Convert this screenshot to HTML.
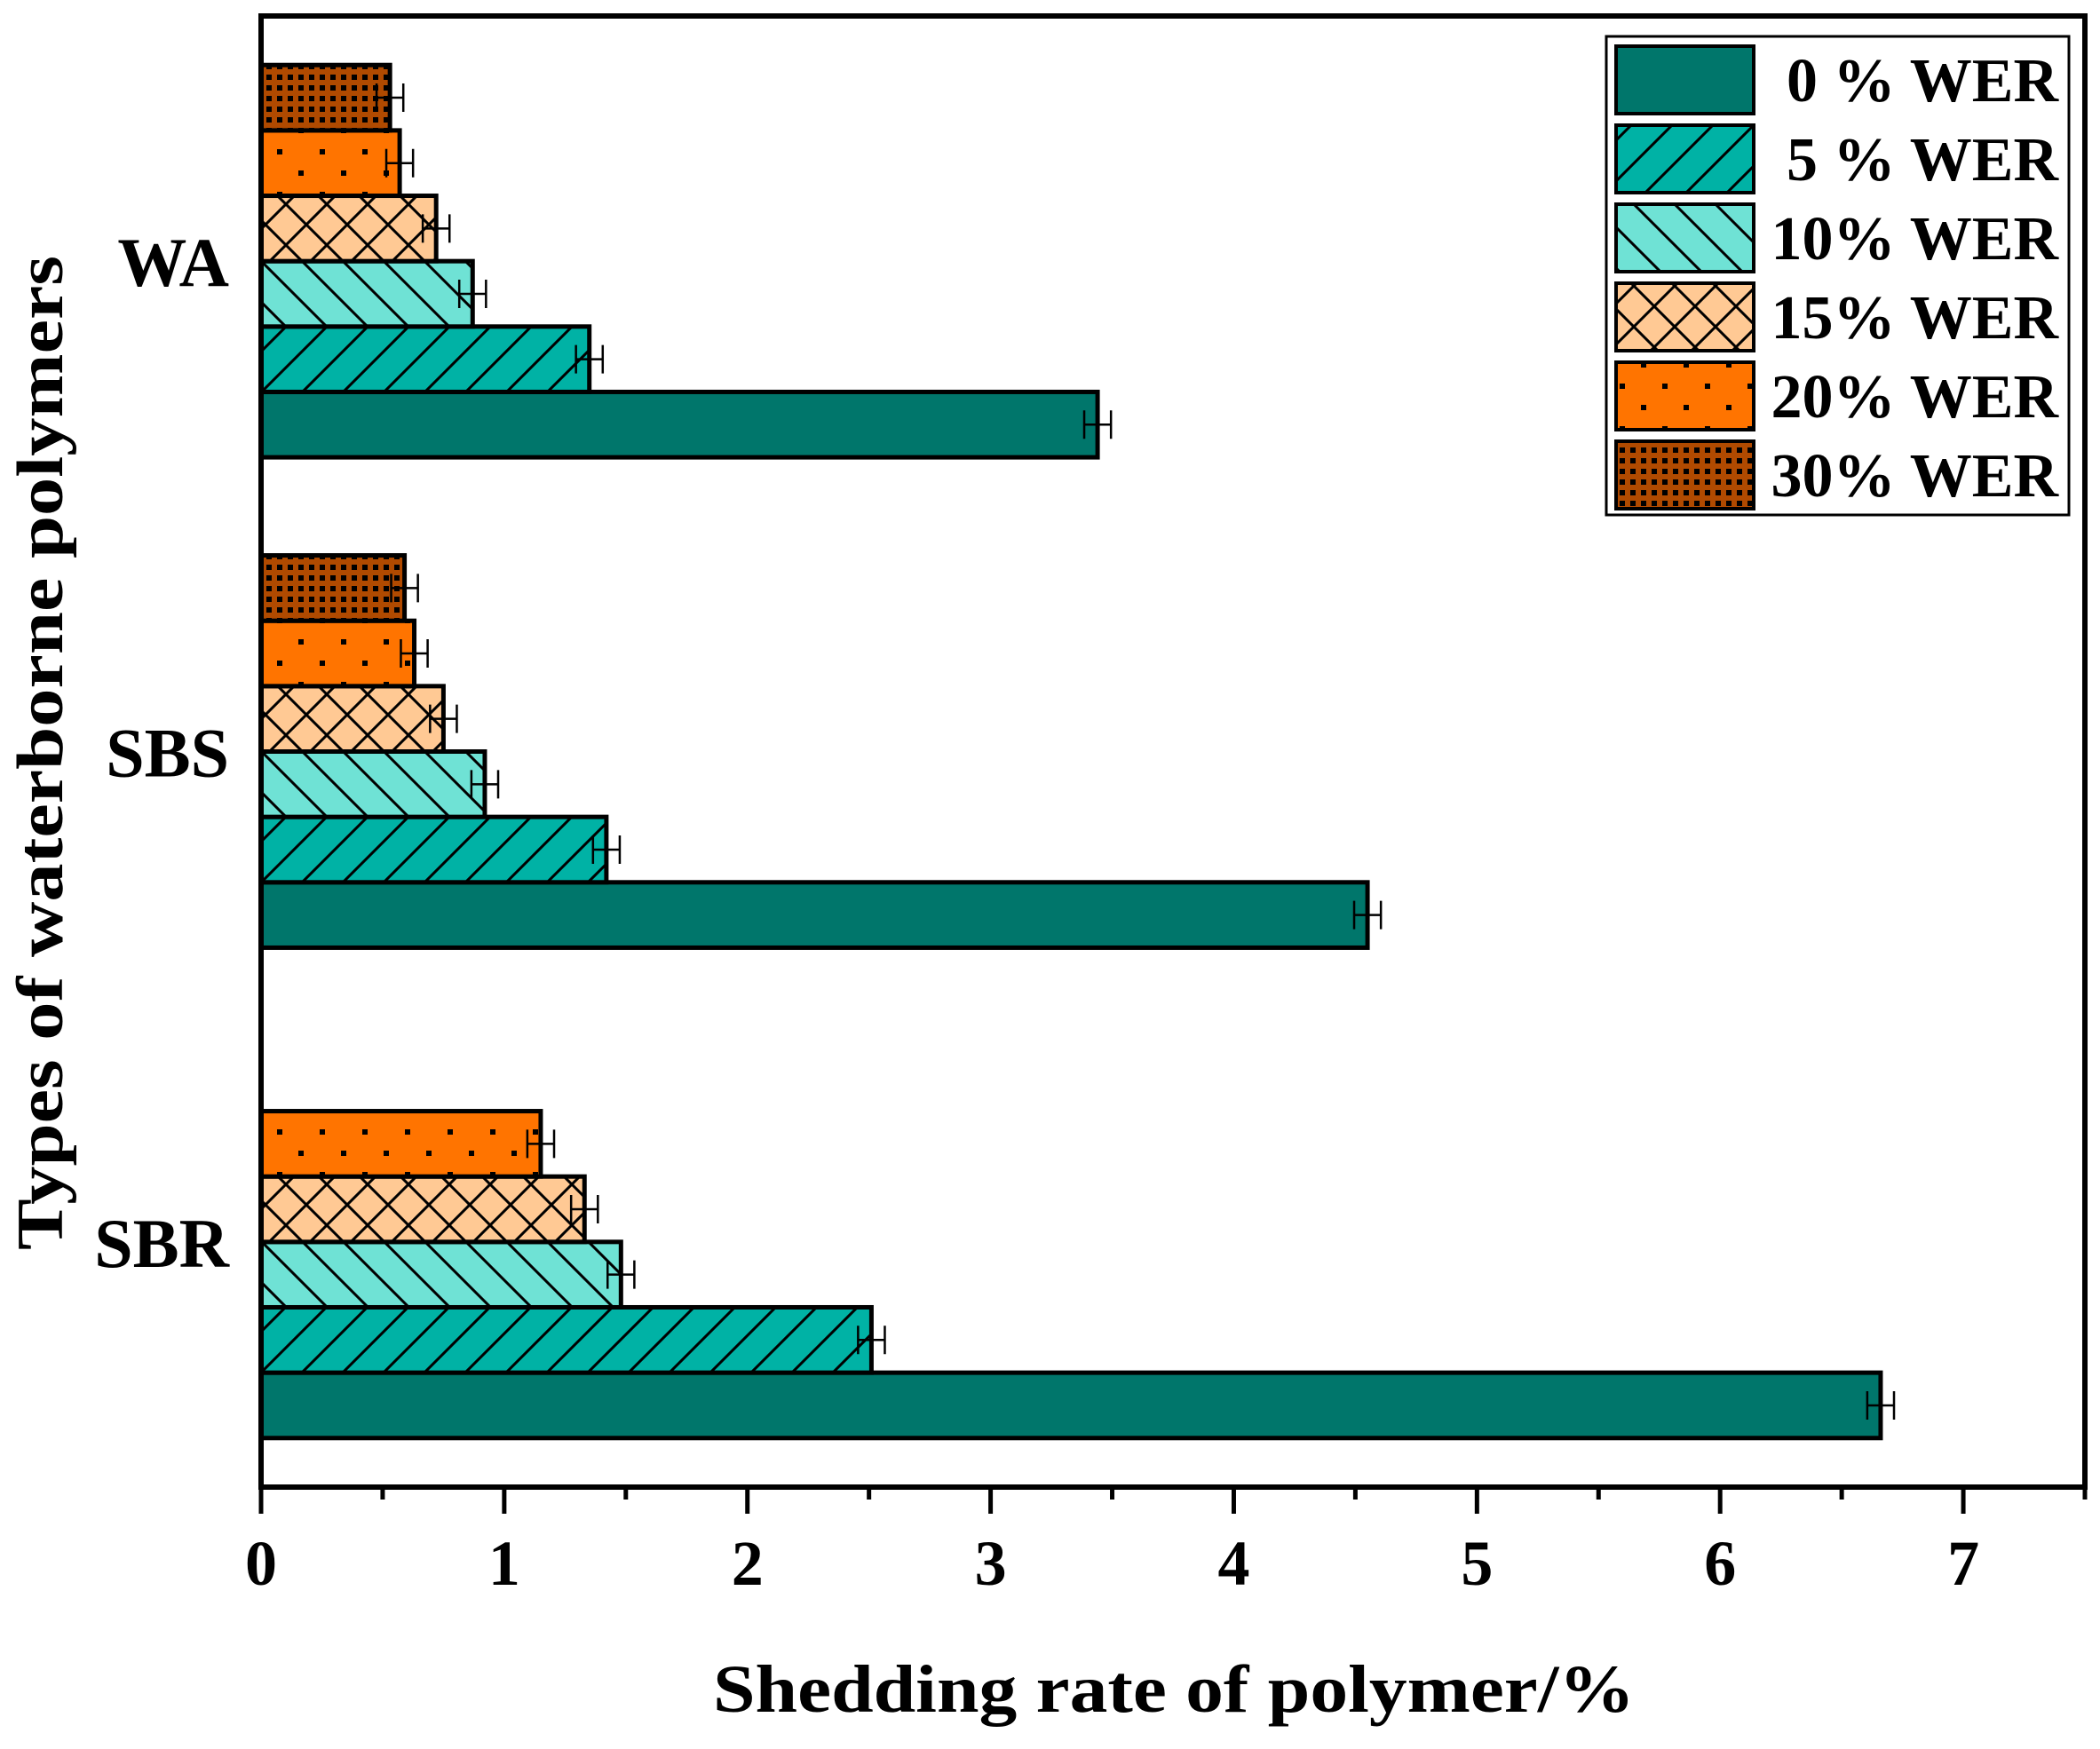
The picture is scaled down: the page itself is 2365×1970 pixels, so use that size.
<!DOCTYPE html>
<html><head><meta charset="utf-8"><style>html,body{margin:0;padding:0;background:#fff}svg{display:block}</style></head>
<body>
<svg id="chart" xmlns="http://www.w3.org/2000/svg" width="2365" height="1970" viewBox="0 0 2365 1970" font-family="'Liberation Serif', serif" font-weight="bold">
<defs>
<pattern id="p5" patternUnits="userSpaceOnUse" width="46" height="46"><rect width="46" height="46" fill="#00b2a5"/><path d="M-5,5 L5,-5 M0,46 L46,0 M41,51 L51,41" stroke="#000" stroke-width="3"/></pattern>
<pattern id="p10" patternUnits="userSpaceOnUse" width="46" height="46"><rect width="46" height="46" fill="#6fe2d5"/><path d="M-5,41 L5,51 M0,0 L46,46 M41,-5 L51,5" stroke="#000" stroke-width="3"/></pattern>
<pattern id="p15" patternUnits="userSpaceOnUse" width="46" height="46"><rect width="46" height="46" fill="#ffc994"/><path d="M-5,41 L5,51 M0,0 L46,46 M41,-5 L51,5 M-5,5 L5,-5 M0,46 L46,0 M41,51 L51,41" stroke="#000" stroke-width="3"/></pattern>
<pattern id="p20" patternUnits="userSpaceOnUse" width="48" height="48"><rect width="48" height="48" fill="#ff7400"/><rect x="0" y="0" width="6" height="6" fill="#000"/><rect x="24" y="24" width="6" height="6" fill="#000"/></pattern>
<pattern id="p30" patternUnits="userSpaceOnUse" width="12" height="12"><rect width="12" height="12" fill="#b04a00"/><rect x="0" y="0" width="6" height="6" fill="#000"/></pattern>
</defs>
<g id="bars"></g>
<g id="axes"></g>
<g id="legend"></g>
</svg>
<script>
const categories = ["SBR", "SBS", "WA"];
const seriesNames = ["0 % WER", "5 % WER", "10% WER", "15% WER", "20% WER", "30% WER"];
const vals0 = [6.66, 4.55, 3.44];
const vals5 = [2.51, 1.42, 1.35];
const vals10 = [1.48, 0.92, 0.87];
const vals15 = [1.33, 0.75, 0.72];
const vals20 = [1.15, 0.63, 0.57];
const vals30 = [null, 0.59, 0.53];
const errs = [0.055, 0.055, 0.055, 0.055, 0.055, 0.055];
const xTicks = [0, 1, 2, 3, 4, 5, 6, 7];
const fills = ["#00766b", "url(#p5)", "url(#p10)", "url(#p15)", "url(#p20)", "url(#p30)"];
const series = [vals0, vals5, vals10, vals15, vals20, vals30];

const NS = "http://www.w3.org/2000/svg";
const L = 294, R = 2348, T = 18, B = 1675;
const xMin = 0, xMax = 7.5, yMin = 0.5, yMax = 3.5;
const xs = v => L + (v - xMin) / (xMax - xMin) * (R - L);
const ys = v => B - (v - yMin) / (yMax - yMin) * (B - T);
const bandPx = (B - T) / (yMax - yMin);
const barH = bandPx * 0.8 / 6;
function mk(tag, attrs, parent) { const e = document.createElementNS(NS, tag); for (const k in attrs) e.setAttribute(k, attrs[k]); parent.appendChild(e); return e; }

const gb = document.getElementById('bars');
categories.forEach((c, ci) => {
  const cy = ys(ci + 1);
  const top = cy - bandPx * 0.4;
  series.forEach((arr, si) => {
    const v = arr[ci];
    if (v == null) return;
    const y = top + (5 - si) * barH;
    const r = mk('rect', {x: xs(0), y: y, width: xs(v) - xs(0), height: barH, fill: fills[si], stroke: '#000', 'stroke-width': 5}, gb);
    
    
    const e = errs[si], my = y + barH / 2;
    const eb = mk('path', {d: `M${xs(v - e)},${my} H${xs(v + e)} M${xs(v - e)},${my - 16} V${my + 16} M${xs(v + e)},${my - 16} V${my + 16}`, stroke: '#000', 'stroke-width': 2.5, fill: 'none'}, gb);
    
    
  });
});

const ga = document.getElementById('axes');
const fr = mk('rect', {x: L, y: T, width: R - L, height: B - T, fill: 'none', stroke: '#000', 'stroke-width': 6}, ga);


xTicks.forEach(t => {
  mk('line', {x1: xs(t), x2: xs(t), y1: B, y2: B + 30, stroke: '#000', 'stroke-width': 5}, ga);
  if (t + 0.5 <= xMax) mk('line', {x1: xs(t + 0.5), x2: xs(t + 0.5), y1: B, y2: B + 14, stroke: '#000', 'stroke-width': 5}, ga);
  const tx = mk('text', {x: xs(t), y: 1785, 'text-anchor': 'middle', 'font-size': 72}, ga);
  tx.textContent = t;
  
  
});
categories.forEach((c, ci) => {
  const tx = mk('text', {x: 258, y: ys(ci + 1) + 28, 'text-anchor': 'end', 'font-size': 78}, ga);
  tx.textContent = c;
  
  
});
const xt = mk('text', {x: 1322, y: 1928, 'text-anchor': 'middle', 'font-size': 76, textLength: 1038, lengthAdjust: 'spacingAndGlyphs'}, ga);
xt.textContent = 'Shedding rate of polymer/%';


const yt = mk('text', {x: 0, y: 0, 'text-anchor': 'middle', 'font-size': 74, textLength: 1120, lengthAdjust: 'spacingAndGlyphs', transform: 'translate(70,848) rotate(-90)'}, ga);
yt.textContent = 'Types of waterborne polymers';



const gl = document.getElementById('legend');
const lb = mk('rect', {x: 1809, y: 41, width: 521, height: 539, fill: '#fff', stroke: '#000', 'stroke-width': 3}, gl);


seriesNames.forEach((n, i) => {
  const y = 52 + i * 89;
  const sw = mk('rect', {x: 1820, y: y, width: 155, height: 76, fill: fills[i], stroke: '#000', 'stroke-width': 4}, gl);
  
  
  const tx = mk('text', {x: 2318, y: y + 62, 'text-anchor': 'end', 'font-size': 70}, gl);
  tx.textContent = n;
  
  
});
</script>
</body></html>
